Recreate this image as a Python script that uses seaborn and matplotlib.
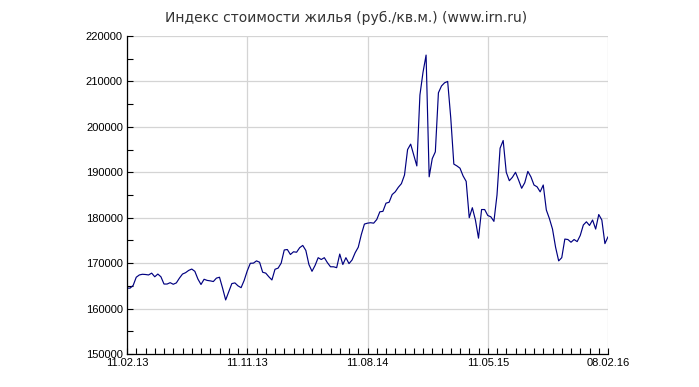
import numpy as np
import pandas as pd
import matplotlib
matplotlib.use("Agg")
import matplotlib.pyplot as plt
import matplotlib.dates as mdates
from matplotlib.ticker import MultipleLocator, FuncFormatter, FixedLocator
import seaborn as sns

title = "Индекс стоимости жилья (руб./кв.м.) (www.irn.ru)"
start_date = "2013-02-11"
end_date = "2016-02-08"
tick_dates = ["2013-02-11", "2013-11-11", "2014-08-11", "2015-05-11", "2016-02-08"]

# weekly index values (руб./кв.м.)
values = [
    164500, 164500, 165100, 166900, 167400, 167550, 167500, 167400, 167800, 167000,
    167600, 167000, 165400, 165400, 165700, 165350, 165650, 166700, 167600, 167900,
    168400, 168700, 168200, 166500, 165300, 166450, 166200, 166100, 165950, 166700,
    166900, 164500, 161900, 163700, 165500, 165650, 165000, 164600, 166200, 168300,
    169970, 170000, 170500, 170200, 168000, 167800, 167000, 166300, 168650, 168900,
    170000, 172900, 173000, 171900, 172500, 172400, 173400, 173900, 172800, 169700,
    168200, 169500, 171200, 170800, 171200, 170100, 169200, 169200, 169000, 172000,
    169700, 171200, 169900, 170700, 172300, 173500, 176300, 178600, 178800, 178900,
    178800, 179600, 181300, 181400, 183200, 183400, 185100, 185700, 186700, 187500,
    189400, 195000, 196200, 193800, 191400, 207000, 212000, 215800, 189000, 193000,
    194500, 207500, 209000, 209700, 210000, 202000, 191800, 191400, 190900, 189200,
    188000, 180000, 182200, 179500, 175500, 181800, 181800, 180500, 180200, 179200,
    185000, 195300, 197000, 190000, 188150, 188900, 190000, 188300, 186480, 187700,
    190200, 189000, 187200, 186800, 185700, 187200, 181700, 179800, 177500, 173500,
    170500, 171200, 175300, 175200, 174600, 175200, 174740, 176100, 178400, 179100,
    178300, 179500, 177500, 180700, 179500, 174300, 175800,
]

dates = pd.date_range(start_date, periods=len(values), freq="7D")
df = pd.DataFrame({"date": dates, "value": values})

sns.set_theme(style="white")
plt.rcParams["font.family"] = ["Liberation Sans", "DejaVu Sans"]

fig = plt.figure(figsize=(6.99, 3.87), dpi=100)
ax = fig.add_axes([127 / 699, 1 - 354 / 387, (608 - 127) / 699, (354 - 36) / 387])

sns.lineplot(data=df, x="date", y="value", ax=ax, color="#000080", linewidth=0.85)

ax.set_xlim(pd.Timestamp(start_date), pd.Timestamp(end_date))
ax.set_ylim(150000, 220000)

ax.xaxis.set_major_locator(FixedLocator(mdates.date2num(pd.to_datetime(tick_dates))))
ax.xaxis.set_minor_locator(FixedLocator(mdates.date2num(pd.date_range(start_date, end_date, freq="21D"))))
ax.xaxis.set_major_formatter(mdates.DateFormatter("%d.%m.%y"))
ax.yaxis.set_major_locator(MultipleLocator(10000))
ax.yaxis.set_minor_locator(MultipleLocator(5000))
ax.yaxis.set_major_formatter(FuncFormatter(lambda v, p: f"{int(v)}"))

ax.grid(True, which="major", color="#d4d4d4", linewidth=0.9)
for s in ["top", "right"]:
    ax.spines[s].set_visible(False)
for s in ["left", "bottom"]:
    ax.spines[s].set_color("black")
    ax.spines[s].set_linewidth(0.9)

ax.tick_params(which="both", direction="in", color="black", width=0.8)
ax.tick_params(which="major", length=4, labelsize=8, colors="black", pad=3)
ax.tick_params(which="minor", length=4)
ax.tick_params(axis="x", which="both", bottom=True)
ax.tick_params(axis="y", which="both", left=True)
ax.set_xlabel("")
ax.set_ylabel("")

fig.text(0.495, 1 - 18 / 387, title, ha="center", va="center", fontsize=10,
         family=["DejaVu Sans"], color="#333333")

fig.savefig("out.png", dpi=100)
